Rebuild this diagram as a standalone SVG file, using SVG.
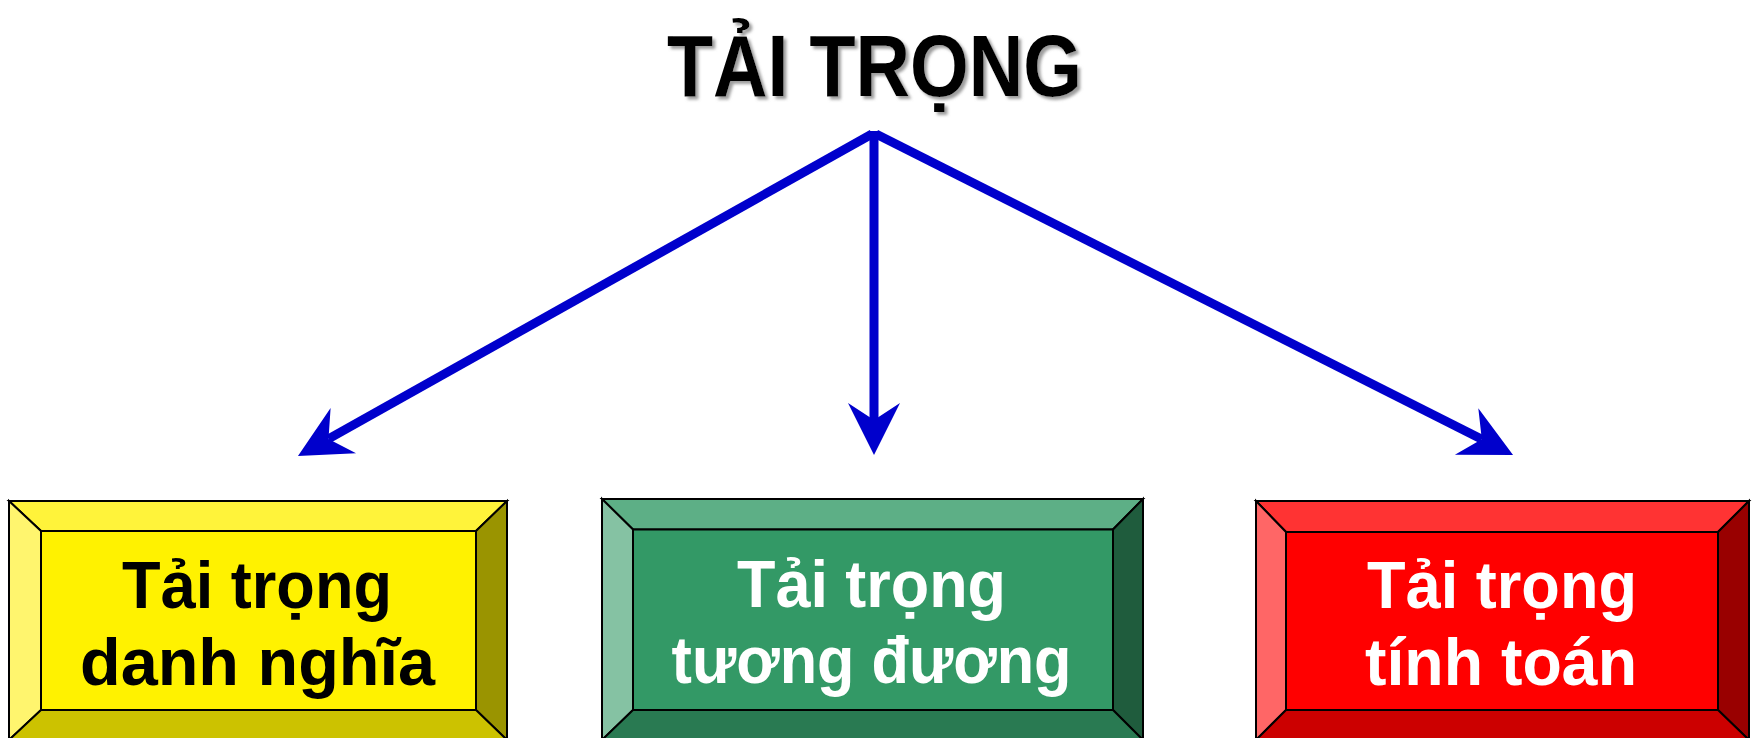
<svg xmlns="http://www.w3.org/2000/svg" width="1756" height="738" viewBox="0 0 1756 738">
  <defs>
    <filter id="shadow" x="-10%" y="-20%" width="120%" height="150%">
      <feDropShadow dx="3" dy="3" stdDeviation="1.6" flood-color="#8c8c8c" flood-opacity="0.85"/>
    </filter>
    <!-- notched arrowhead; the line ends at the notch, tip is 35px further on -->
    <marker id="head" markerUnits="userSpaceOnUse" markerWidth="60" markerHeight="60" viewBox="-20 -30 60 60" refX="0" refY="0" orient="auto" overflow="visible">
      <path d="M35,0 L-17,-26 L0,0 L-17,26 Z" fill="#0000CC"/>
    </marker>
  </defs>
  <style>
    .edge { stroke: #0000CC; stroke-width: 9; fill: none; }
    .bev { stroke: #000; stroke-width: 2; stroke-linejoin: miter; }
    .title { font-family: "Liberation Sans", Arial, sans-serif; font-weight: bold; font-size: 88px; fill: #000; }
    .lbl { font-family: "Liberation Sans", Arial, sans-serif; font-weight: bold; font-size: 66px; text-anchor: middle; }
  </style>

  <rect width="1756" height="738" fill="#fff"/>

  <g id="root">
    <text class="title" x="667" y="96" textLength="415" lengthAdjust="spacingAndGlyphs" filter="url(#shadow)">TẢI TRỌNG</text>
  </g>

  <g id="connectors">
    <line class="edge" x1="872" y1="134" x2="328.5" y2="438.9" marker-end="url(#head)"/>
    <line class="edge" x1="874" y1="131" x2="874" y2="420" marker-end="url(#head)"/>
    <line class="edge" x1="876" y1="134" x2="1481.8" y2="439.2" marker-end="url(#head)"/>
  </g>

  <!-- Box 1: yellow bevel -->
  <g id="node-danh-nghia">
    <polygon class="bev" fill="#FFF33A" points="9,501 507,501 476,531 41,531"/>
    <polygon class="bev" fill="#FFF56E" points="9,501 41,531 41,710 9,740"/>
    <polygon class="bev" fill="#9A9400" points="507,501 507,740 476,710 476,531"/>
    <polygon class="bev" fill="#CCC200" points="9,740 41,710 476,710 507,740"/>
    <rect class="bev" fill="#FFF200" x="41" y="531" width="435" height="179"/>
    <text class="lbl" fill="#000" x="257" y="608" textLength="270" lengthAdjust="spacingAndGlyphs">Tải trọng</text>
    <text class="lbl" fill="#000" x="257.5" y="685" textLength="355" lengthAdjust="spacingAndGlyphs">danh nghĩa</text>
  </g>

  <!-- Box 2: green bevel -->
  <g id="node-tuong-duong">
    <polygon class="bev" fill="#5DAF86" points="602,499 1143,499 1113,529.5 633,529.5"/>
    <polygon class="bev" fill="#85C2A3" points="602,499 633,529.5 633,710 602,740"/>
    <polygon class="bev" fill="#1F5C3D" points="1143,499 1143,740 1113,710 1113,529.5"/>
    <polygon class="bev" fill="#297A52" points="602,740 633,710 1113,710 1143,740"/>
    <rect class="bev" fill="#339966" x="633" y="529.5" width="480" height="180.5"/>
    <text class="lbl" fill="#fff" x="871.5" y="607" textLength="269" lengthAdjust="spacingAndGlyphs">Tải trọng</text>
    <text class="lbl" fill="#fff" x="871.5" y="683" textLength="400" lengthAdjust="spacingAndGlyphs">tương đương</text>
  </g>

  <!-- Box 3: red bevel -->
  <g id="node-tinh-toan">
    <polygon class="bev" fill="#FF3333" points="1256,501 1749,501 1718,532 1286,532"/>
    <polygon class="bev" fill="#FF6666" points="1256,501 1286,532 1286,710 1256,740"/>
    <polygon class="bev" fill="#990000" points="1749,501 1749,740 1718,710 1718,532"/>
    <polygon class="bev" fill="#CC0000" points="1256,740 1286,710 1718,710 1749,740"/>
    <rect class="bev" fill="#FF0000" x="1286" y="532" width="432" height="178"/>
    <text class="lbl" fill="#fff" x="1502" y="608" textLength="270" lengthAdjust="spacingAndGlyphs">Tải trọng</text>
    <text class="lbl" fill="#fff" x="1501" y="685" textLength="272" lengthAdjust="spacingAndGlyphs">tính toán</text>
  </g>
</svg>
